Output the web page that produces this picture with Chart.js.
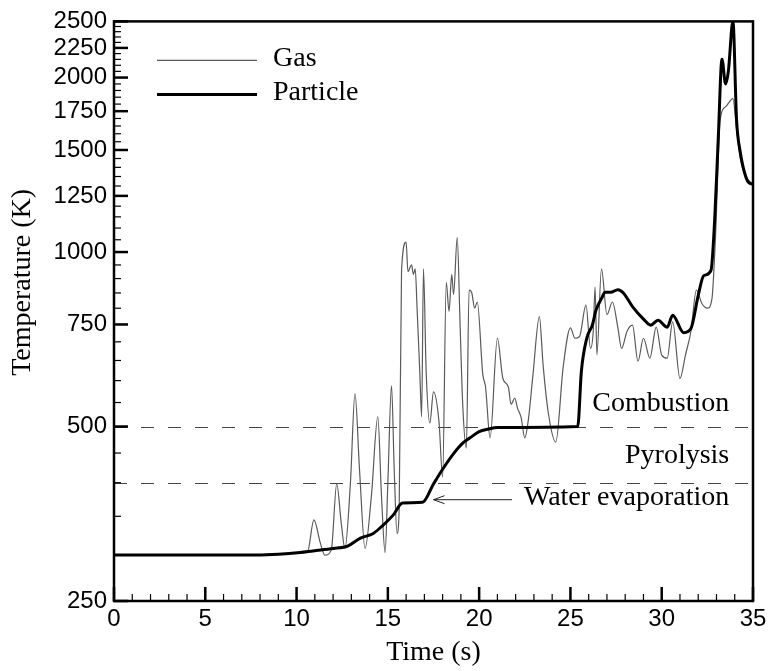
<!DOCTYPE html>
<html>
<head>
<meta charset="utf-8">
<script src="https://cdn.jsdelivr.net/npm/chart.js@4.4.1/dist/chart.umd.min.js"></script>
<style>
  html, body { margin: 0; background: #fff; }
</style>
</head>
<body>
<canvas id="tempChart" width="771" height="671"></canvas>
<script>
// time (s) / temperature (K)
const timeGas = [
  0, 7, 9, 10.2, 10.6, 10.95, 11.3, 11.55, 11.9, 12.2,
  12.45, 12.65, 12.95, 13.2, 13.45, 13.75, 14.1, 14.45, 14.65, 14.85,
  15.0, 15.2, 15.35, 15.5, 15.62, 15.75, 16.0, 16.1, 16.3, 16.4,
  16.5, 16.6, 16.75, 16.85, 16.95, 17.1, 17.3, 17.5, 17.8, 18.0,
  18.2, 18.35, 18.5, 18.6, 18.8, 18.95, 19.1, 19.3, 19.45, 19.6,
  19.75, 19.9, 20.2, 20.35, 20.6, 21.0, 21.3, 21.6, 21.75, 21.95,
  22.1, 22.3, 22.5, 22.7, 22.95, 23.3, 23.5, 23.8, 24.2, 24.6,
  25.0, 25.25, 25.5, 25.85, 26.1, 26.25, 26.35, 26.45, 26.7, 27.0,
  27.3, 27.6, 27.8, 28.1, 28.4, 28.7, 29.0, 29.35, 29.7, 30.0,
  30.3, 30.6, 31.0, 31.3, 31.6, 31.9, 32.2, 32.5, 32.75, 32.95,
  33.2, 33.5, 33.9, 34.1, 34.3, 34.6, 35
];
const gasTemp = [
  300, 300, 301, 303, 304, 345, 315, 300, 306, 398,
  340, 308, 400, 570, 420, 308, 380, 520, 380, 303,
  400, 588, 420, 327, 360, 930, 1040, 925, 950, 915,
  935, 800, 620, 520, 935, 620, 507, 574, 510, 409,
  887, 790, 915, 845, 1060, 760, 546, 459, 860, 850,
  800, 820, 615, 585, 478, 710, 605, 585, 546, 560,
  538, 518, 478, 515, 615, 774, 640, 525, 470, 632,
  740, 710, 715, 810, 682, 730, 870, 665, 935, 780,
  820, 740, 682, 730, 748, 648, 710, 656, 742, 664,
  656, 758, 605, 664, 730, 860, 815, 800, 830, 1070,
  1690, 1780, 1840, 1630, 1450, 1350, 1310
];
const timeParticle = [
  0, 7, 9, 10.2, 10.9, 12, 12.8, 13.5, 14.2, 14.7,
  15.3, 15.8, 16.9, 17.5, 18.0, 18.6, 19.1, 19.5, 20.0, 20.5,
  21.0, 25.4, 25.6, 25.9, 26.2, 26.4, 26.7, 26.9, 27.2, 27.6,
  27.9, 28.4, 29.0, 29.4, 29.8, 30.3, 30.6, 31.2, 31.6, 32.0,
  32.3, 32.7, 32.9, 33.1, 33.3, 33.5, 33.65, 33.9, 34.1, 34.3,
  34.6, 34.8, 35
];
const particleTemp = [
  300, 300, 301, 303, 305, 308, 311, 321, 327, 337,
  352, 369, 370, 398, 422, 449, 468, 478, 490, 495,
  498, 500, 623, 711, 748, 794, 831, 852, 852, 861,
  850, 805, 766, 748, 763, 742, 778, 726, 738, 842,
  910, 930, 1135, 1580, 2150, 1950, 2050, 2500, 1690, 1490,
  1350, 1315, 1310
];
const yTicks = [250, 500, 750, 1000, 1250, 1500, 1750, 2000, 2250, 2500];
const phaseLimits = [400, 500];
const phaseNames = ['Combustion', 'Pyrolysis', 'Water evaporation'];
const seriesNames = ['Gas', 'Particle'];

const serif = '"Liberation Serif", "Times New Roman", serif';
const sans = '"Liberation Sans", Arial, sans-serif';
const gasColor = '#5a5a5a';

const pts = (xs, ys) => xs.map((t, i) => ({ x: t, y: ys[i] }));

// frame, inward ticks, dashed limits, legend and notes
const decorations = {
  id: 'decorations',
  beforeDatasetsDraw(chart) {
    const { ctx, chartArea: a, scales: { y } } = chart;
    ctx.save();
    ctx.strokeStyle = '#444';
    ctx.lineWidth = 1;
    ctx.setLineDash([13, 14]);
    phaseLimits.forEach(v => {
      const py = Math.round(y.getPixelForValue(v)) + 0.5;
      ctx.beginPath();
      ctx.moveTo(a.left, py);
      ctx.lineTo(a.right, py);
      ctx.stroke();
    });
    ctx.restore();
  },
  afterDatasetsDraw(chart) {
    const { ctx, chartArea: a, scales: { x, y } } = chart;
    ctx.save();
    ctx.strokeStyle = '#000';
    for (let v = 250; v <= 2500; v += 50) {
      const major = v % 250 === 0;
      const py = y.getPixelForValue(v);
      ctx.lineWidth = major ? 2.5 : 1.2;
      ctx.beginPath();
      ctx.moveTo(a.left, py);
      ctx.lineTo(a.left + (major ? 14 : 7), py);
      ctx.stroke();
    }
    for (let t = 0; t <= 35; t++) {
      const major = t % 5 === 0;
      const px = x.getPixelForValue(t);
      ctx.lineWidth = major ? 2.5 : 1.2;
      ctx.beginPath();
      ctx.moveTo(px, a.bottom);
      ctx.lineTo(px, a.bottom - (major ? 14 : 7));
      ctx.stroke();
    }
    ctx.lineWidth = 2.5;
    ctx.strokeRect(a.left, a.top, a.right - a.left, a.bottom - a.top);

    // legend
    const ds = chart.data.datasets;
    ctx.font = '28px ' + serif;
    ctx.fillStyle = '#000';
    ctx.textAlign = 'left';
    ctx.textBaseline = 'alphabetic';
    [[1, 39, 45], [0, 73, 79]].forEach(([i, ly, ty]) => {
      ctx.strokeStyle = ds[i].borderColor;
      ctx.lineWidth = ds[i].borderWidth;
      ctx.beginPath();
      ctx.moveTo(a.left + 43, a.top + ly);
      ctx.lineTo(a.left + 143, a.top + ly);
      ctx.stroke();
      ctx.fillText(ds[i].label, a.left + 159, a.top + ty);
    });

    // phase notes
    const y500 = y.getPixelForValue(phaseLimits[1]);
    const y400 = y.getPixelForValue(phaseLimits[0]);
    const rx = x.getPixelForValue(33.7);
    ctx.textAlign = 'right';
    ctx.fillText(phaseNames[0], rx, y500 - 16);
    ctx.fillText(phaseNames[1], rx, y500 + 36);
    ctx.fillText(phaseNames[2], rx, y400 + 22);

    // arrow to the evaporation plateau
    const ay = y400 + 17;
    const tip = x.getPixelForValue(17.5);
    const tail = x.getPixelForValue(21.8);
    ctx.strokeStyle = '#222';
    ctx.lineWidth = 1;
    ctx.beginPath();
    ctx.moveTo(tail, ay);
    ctx.lineTo(tip, ay);
    ctx.moveTo(tip + 11, ay - 4);
    ctx.lineTo(tip, ay);
    ctx.lineTo(tip + 11, ay + 4);
    ctx.stroke();

    // y title
    ctx.translate(23, a.top + 261);
    ctx.rotate(-Math.PI / 2);
    ctx.textAlign = 'center';
    ctx.textBaseline = 'middle';
    ctx.fillText('Temperature (K)', 0, 0);
    ctx.restore();
  }
};

new Chart(document.getElementById('tempChart'), {
  type: 'line',
  data: {
    datasets: [
      {
        label: seriesNames[1],
        data: pts(timeParticle, particleTemp),
        borderColor: '#000',
        borderWidth: 3,
        pointRadius: 0,
        cubicInterpolationMode: 'monotone',
        order: 0
      },
      {
        label: seriesNames[0],
        data: pts(timeGas, gasTemp),
        borderColor: gasColor,
        borderWidth: 1.2,
        pointRadius: 0,
        cubicInterpolationMode: 'monotone',
        order: 1
      }
    ]
  },
  options: {
    responsive: false,
    animation: false,
    layout: { padding: { top: 18, right: 18, left: 0, bottom: 0 } },
    plugins: { legend: { display: false }, tooltip: { enabled: false } },
    scales: {
      x: {
        type: 'linear',
        min: 0,
        max: 35,
        ticks: { stepSize: 5, maxRotation: 0, padding: 4, color: '#000', font: { family: sans, size: 24 } },
        grid: { display: false, drawTicks: false },
        border: { display: false },
        title: { display: true, text: 'Time (s)', color: '#000', font: { family: serif, size: 28 }, padding: { top: 0, bottom: 2 } },
        afterFit: s => { s.height = 70; }
      },
      y: {
        type: 'logarithmic',
        min: 250,
        max: 2500,
        afterBuildTicks: s => { s.ticks = yTicks.map(v => ({ value: v })); },
        ticks: { autoSkip: false, padding: 7, color: '#000', font: { family: sans, size: 24 }, callback: v => String(v) },
        grid: { display: false, drawTicks: false },
        border: { display: false },
        afterFit: s => { s.width = 114; }
      }
    }
  },
  plugins: [decorations]
});
</script>
</body>
</html>
